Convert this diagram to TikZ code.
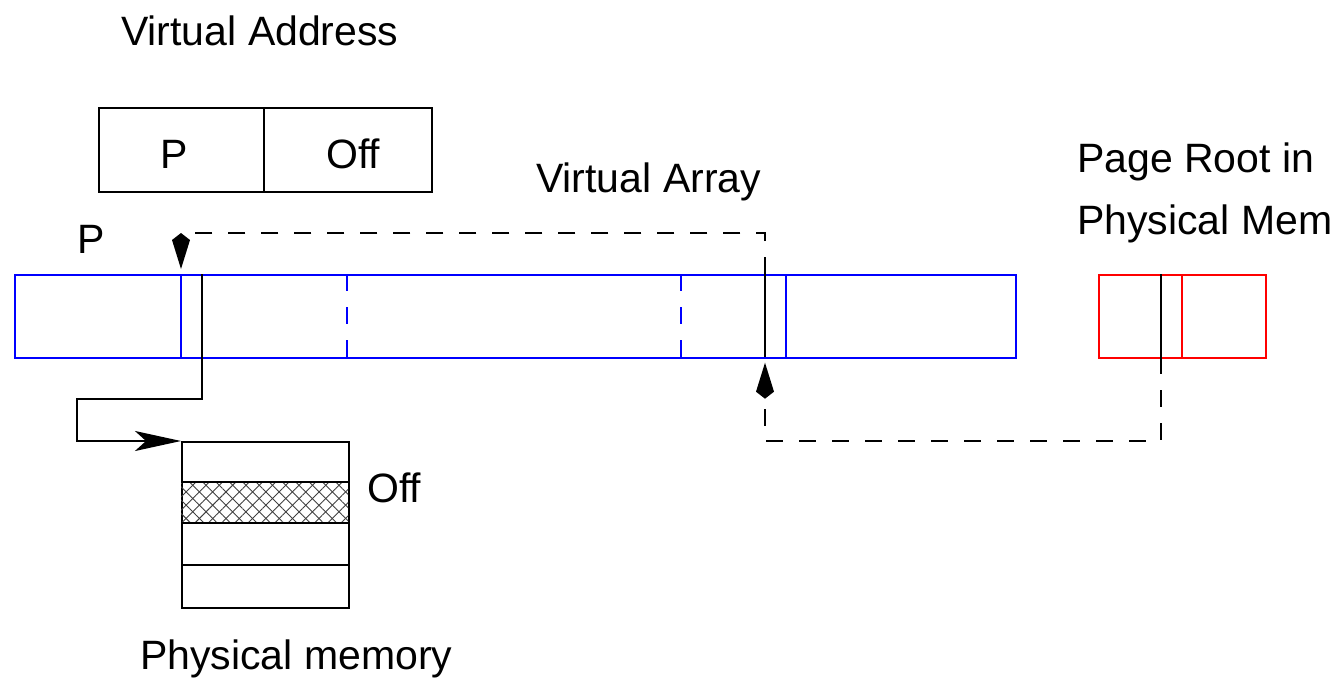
\documentclass[tikz,border=0pt]{standalone}
\usepackage{fontspec}
\setmainfont{Liberation Sans}
\usetikzlibrary{arrows.meta,patterns.meta}
\begin{document}
\begin{tikzpicture}[x=1pt,y=-1pt,
  lbl/.style={anchor=base west, inner sep=0pt, font=\fontsize{41}{49}\selectfont},
  box/.style={draw, line width=2pt, inner sep=0pt, anchor=north west},
  blk/.style={line width=2pt, black},
  bl/.style={line width=2pt, blue},
  dsh/.style={line width=2pt, dash pattern=on 17pt off 16pt},
  kitetip/.style={-{Kite[length=36pt,width=18pt,inset=7pt]}},
  stealthtip/.style={-{Stealth[length=46pt,width=20pt,inset=11pt]}},
]
\useasboundingbox (0,0) rectangle (1339,678);

% texts
\node[lbl] (tva) at (121,45) {Virtual Address};
\node[lbl] (tvp) at (160,168) {P};
\node[lbl] (tvo) at (326,168) {Off};
\node[lbl] (tarr) at (536,192) {Virtual Array};
\node[lbl] (tpr1) at (1077,172.5) {Page Root in};
\node[lbl] (tpr2) at (1077,234) {Physical Mem};
\node[lbl] (tp) at (77,253) {P};
\node[lbl] (toff) at (367,502) {Off};
\node[lbl] (tpm) at (140,669) {Physical memory};

% virtual address box
\node[box, minimum width=333pt, minimum height=83.5pt] (va) at (98,107) {};
\draw[blk] (264,107) -- (264,190.5);

% virtual array
\node[box, blue, minimum width=1001pt, minimum height=83pt] (arr) at (14,274) {};
\draw[bl] (181,274) -- (181,357);
\draw[bl] (785.5,274) -- (785.5,357);
\draw[bl, dash pattern=on 17pt off 16pt] (347,274) -- (347,357);
\draw[bl, dash pattern=on 17pt off 16pt] (681,274) -- (681,357);

% page root
\node[box, red, minimum width=167pt, minimum height=83pt] (pr) at (1098,274) {};
\draw[line width=2pt, red] (1181.5,274) -- (1181.5,357);

% physical memory
\node[box, minimum width=167pt, minimum height=166pt] (mem) at (181,441) {};
\fill[pattern={Lines[angle=45,distance=9.4pt,line width=0.9pt]}, pattern color=black!75] (181,482) rectangle (348,523);
\fill[pattern={Lines[angle=-45,distance=9.4pt,line width=0.9pt]}, pattern color=black!75] (181,482) rectangle (348,523);
\draw[blk] (181,482) -- (348,482);
\draw[blk] (181,523) -- (348,523);
\draw[blk] (181,565) -- (348,565);

% coordinates for connectors
\coordinate (a1) at (765,274);
\coordinate (a2) at (765,232.7);
\coordinate (a3) at (181,232.7);
\coordinate (a4) at (181,269);
\coordinate (b1) at (1160.5,357);
\coordinate (b2) at (1160.5,441);
\coordinate (b3) at (765,441);
\coordinate (b4) at (765,362.7);
\coordinate (c1) at (202,274);
\coordinate (c2) at (202,399);
\coordinate (c3) at (77,399);
\coordinate (c4) at (77,441);

% solid pointer lines
\draw[blk] (765,274) -- (765,357);
\draw[blk] (1160.5,274) -- (b1);

% connectors
\draw[dsh, kitetip] (a1) -- (a2) -- (a3) -- (a4);
\draw[dsh, kitetip] (b1) -- (b2) -- (b3) -- (b4);
\draw[blk, stealthtip] (c1) -- (c2) -- (c3) -- (c4) -- (mem.north west);
\end{tikzpicture}
\end{document}
